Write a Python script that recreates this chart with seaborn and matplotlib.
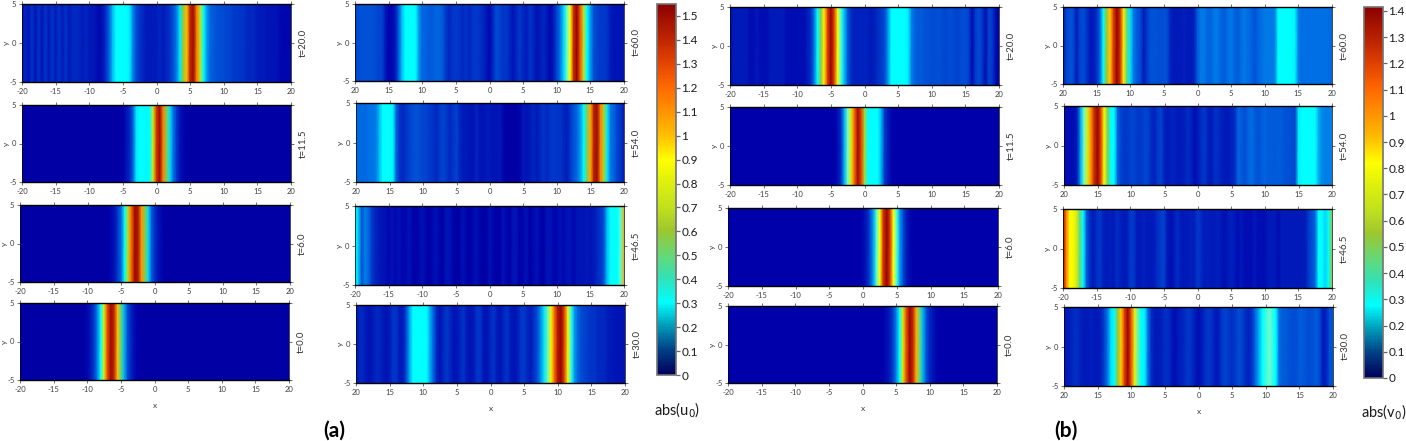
import numpy as np
import matplotlib
matplotlib.use('Agg')
import matplotlib.pyplot as plt
from matplotlib.cm import ScalarMappable
from matplotlib.colors import LinearSegmentedColormap, Normalize
import seaborn as sns

sns.set_style('white')
plt.rcParams['font.family'] = ['Lato', 'DejaVu Sans']

# x runs from -20 to 20 in steps of 0.5, one profile per panel
x_ticks = [-20, -15, -10, -5, 0, 5, 10, 15, 20]
y_ticks = [-5, 0, 5]
x_labels_minus = ['-20', '-15', '-10', '-5', '0', '5', '10', '15', '20']
x_labels_plain = ['20', '15', '10', '5', '0', '5', '10', '15', '20']
bar_a_ticks = [0, 0.1, 0.2, 0.3, 0.4, 0.5, 0.6, 0.7, 0.8, 0.9, 1, 1.1, 1.2, 1.3, 1.4, 1.5]
bar_b_ticks = [0, 0.1, 0.2, 0.3, 0.4, 0.5, 0.6, 0.7, 0.8, 0.9, 1, 1.1, 1.2, 1.3, 1.4]
vmax_a = 1.55
vmax_b = 1.415

u_t0 = [.03, .03, .03, .03, .03, .03, .03, .03, .03, .03, .03, .03, .03, .03, .03, .03, .03, .03, .03, .03,
        .04, .055, .09, .17, .36, .78, 1.28, 1.5, 1.4, 1.0, .5, .23, .11, .07, .045, .035, .03, .03, .03, .03,
        .03, .03, .03, .03, .03, .03, .03, .03, .03, .03, .03, .03, .03, .03, .03, .03, .03, .03, .03, .03,
        .03, .03, .03, .03, .03, .03, .03, .03, .03, .03, .03, .03, .03, .03, .03, .03, .03, .03, .03, .03, .03]
u_t6 = [.03, .03, .03, .03, .03, .03, .03, .03, .03, .03, .03, .03, .03, .03, .03, .03, .03, .03, .03, .03,
        .03, .03, .03, .03, .03, .03, .03, .04, .05, .085, .15, .32, .68, 1.2, 1.5, 1.45, 1.1, .58, .27, .13,
        .075, .05, .04, .03, .03, .03, .03, .03, .03, .03, .03, .03, .03, .03, .03, .03, .03, .03, .03, .03,
        .03, .03, .03, .03, .03, .03, .03, .03, .03, .03, .03, .03, .03, .03, .03, .03, .03, .03, .03, .03, .03]
u_t115 = [.03, .03, .03, .03, .03, .03, .03, .03, .03, .03, .03, .03, .03, .03, .03, .03, .03, .03, .03, .03,
          .03, .03, .03, .03, .03, .03, .03, .03, .03, .03, .03, .05, .07, .13, .28, .31, .31, .3, .32, .75,
          1.35, 1.5, 1.15, .55, .27, .16, .09, .05, .04, .03, .03, .03, .03, .03, .03, .03, .03, .03, .03, .03,
          .03, .03, .03, .03, .03, .03, .03, .03, .03, .03, .03, .03, .03, .03, .03, .03, .03, .03, .03, .03, .03]
u_t20 = [.05, .07, .05, .08, .05, .08, .05, .08, .06, .08, .06, .08, .06, .08, .06, .07, .07, .07, .06, .07,
         .06, .06, .05, .04, .05, .08, .14, .24, .31, .33, .33, .32, .29, .18, .11, .08, .07, .06, .06, .06,
         .06, .07, .06, .07, .08, .12, .17, .28, .6, 1.0, 1.4, 1.5, 1.15, .7, .32, .2, .14, .13, .12, .11,
         .11, .1, .1, .09, .09, .08, .08, .07, .07, .07, .06, .06, .06, .05, .05, .05, .05, .04, .04, .04, .04]
u_t30 = [.05, .07, .07, .06, .05, .06, .07, .07, .06, .05, .06, .08, .08, .06, .06, .12, .22, .31, .33, .34,
         .34, .32, .22, .14, .07, .05, .07, .09, .07, .05, .05, .07, .08, .06, .05, .06, .08, .08, .05, .05,
         .07, .08, .06, .05, .07, .08, .06, .05, .06, .08, .09, .07, .06, .08, .12, .19, .28, .45, .85, 1.2,
         1.45, 1.52, 1.3, .85, .4, .2, .14, .11, .1, .09, .08, .08, .07, .07, .07, .06, .06, .05, .05, .05, .05]
u_t465 = [.32, .25, .12, .17, .15, .09, .07, .06, .05, .05, .04, .05, .04, .05, .04, .04, .05, .04, .03, .04,
          .05, .04, .03, .04, .05, .04, .03, .05, .05, .04, .03, .03, .05, .04, .03, .04, .05, .04, .03, .03,
          .05, .04, .03, .03, .05, .04, .03, .05, .05, .03, .04, .05, .03, .04, .05, .04, .03, .05, .05, .04,
          .04, .05, .04, .05, .05, .04, .05, .05, .05, .06, .05, .06, .07, .08, .12, .24, .32, .31, .33, .42, 1.05]
u_t54 = [.15, .15, .15, .15, .16, .16, .17, .24, .32, .33, .33, .3, .14, .08, .07, .08, .1, .11, .12, .11,
         .1, .1, .09, .08, .07, .09, .1, .09, .07, .08, .1, .07, .06, .06, .05, .05, .07, .05, .05, .06,
         .06, .05, .05, .06, .04, .03, .03, .03, .03, .04, .06, .05, .06, .07, .06, .07, .08, .07, .08, .09,
         .08, .08, .07, .06, .09, .12, .15, .2, .3, .55, 1.05, 1.42, 1.5, 1.15, .65, .28, .16, .14, .1, .08, .06]
u_t60 = [.1, .11, .12, .12, .12, .12, .11, .1, .1, .06, .04, .04, .06, .13, .24, .32, .34, .34, .31, .2,
         .14, .14, .13, .13, .14, .14, .13, .09, .07, .08, .09, .08, .07, .08, .07, .08, .09, .08, .07, .06,
         .04, .07, .11, .1, .08, .09, .07, .05, .07, .09, .07, .06, .08, .07, .05, .06, .07, .06, .04, .06,
         .1, .16, .26, .42, .9, 1.38, 1.52, 1.25, .7, .35, .2, .12, .1, .09, .09, .08, .06, .05, .05, .05, .05]

v_t0 = [.03, .03, .03, .03, .03, .03, .03, .03, .03, .03, .03, .03, .03, .03, .03, .03, .03, .03, .03, .03,
        .03, .03, .03, .03, .03, .03, .03, .03, .03, .03, .03, .03, .03, .03, .03, .03, .03, .03, .03, .03,
        .03, .03, .03, .03, .03, .03, .03, .04, .05, .08, .16, .33, .7, 1.15, 1.38, 1.28, .95, .45, .21, .11,
        .065, .045, .035, .03, .03, .03, .03, .03, .03, .03, .03, .03, .03, .03, .03, .03, .03, .03, .03, .03, .03]
v_t6 = [.03, .03, .03, .03, .03, .03, .03, .03, .03, .03, .03, .03, .03, .03, .03, .03, .03, .03, .03, .03,
        .03, .03, .03, .03, .03, .03, .03, .03, .03, .03, .03, .03, .03, .03, .03, .03, .03, .03, .03, .03,
        .035, .055, .09, .18, .38, .82, 1.23, 1.39, 1.23, .82, .38, .18, .09, .055, .035, .03, .03, .03, .03, .03,
        .03, .03, .03, .03, .03, .03, .03, .03, .03, .03, .03, .03, .03, .03, .03, .03, .03, .03, .03, .03, .03]
v_t115 = [.03, .03, .03, .03, .03, .03, .03, .03, .03, .03, .03, .03, .03, .03, .03, .03, .03, .03, .03, .03,
          .03, .03, .03, .03, .03, .03, .03, .03, .03, .03, .03, .03, .04, .07, .2, .4, .72, 1.1, 1.37, 1.2,
          .6, .3, .3, .3, .28, .2, .08, .05, .035, .03, .03, .03, .03, .03, .03, .03, .03, .03, .03, .03,
          .03, .03, .03, .03, .03, .03, .03, .03, .03, .03, .03, .03, .03, .03, .03, .03, .03, .03, .03, .03, .03]
v_t20 = [.04, .05, .05, .05, .05, .05, .04, .04, .05, .04, .04, .04, .05, .05, .05, .05, .05, .04, .04, .04,
         .04, .04, .04, .05, .07, .14, .28, .5, .85, 1.2, 1.39, 1.2, .8, .38, .22, .12, .07, .06, .06, .06,
         .06, .06, .05, .06, .07, .08, .1, .18, .28, .33, .34, .33, .31, .26, .16, .13, .12, .12, .11, .11,
         .1, .1, .11, .1, .09, .1, .1, .09, .09, .1, .1, .09, .04, .08, .1, .08, .04, .09, .08, .04, .03]
v_t30 = [.05, .05, .06, .07, .07, .06, .05, .05, .06, .05, .05, .06, .09, .15, .25, .3, .55, .9, 1.2, 1.39,
         1.15, .75, .42, .3, .27, .14, .07, .05, .05, .06, .07, .07, .05, .04, .05, .06, .07, .08, .07, .05,
         .04, .05, .07, .08, .07, .05, .05, .08, .09, .08, .07, .08, .1, .09, .07, .06, .08, .14, .2, .3,
         .37, .4, .37, .3, .14, .12, .12, .11, .1, .1, .12, .12, .11, .1, .11, .12, .1, .05, .06, .11, .11]
v_t465 = [1.35, 1.05, .82, .8, .72, .45, .28, .12, .07, .05, .07, .08, .06, .05, .06, .05, .07, .06, .05, .05,
          .08, .08, .05, .05, .06, .05, .05, .05, .07, .08, .09, .05, .04, .05, .07, .05, .05, .05, .06, .05,
          .08, .07, .05, .06, .05, .05, .06, .05, .04, .05, .06, .05, .04, .05, .04, .04, .04, .05, .04, .04,
          .04, .05, .05, .05, .04, .05, .05, .05, .05, .05, .05, .05, .05, .08, .1, .13, .28, .3, .24, .3, .55]
v_t54 = [.04, .04, .04, .04, .06, .2, .4, .72, 1.0, 1.25, 1.39, 1.2, .8, .5, .3, .28, .13, .09, .08, .08,
         .09, .09, .08, .08, .09, .09, .07, .06, .08, .09, .06, .05, .06, .06, .05, .05, .06, .07, .06, .04,
         .05, .07, .08, .06, .05, .07, .07, .06, .05, .05, .06, .07, .13, .12, .1, .13, .14, .12, .11, .12,
         .13, .12, .12, .12, .12, .12, .11, .11, .1, .09, .26, .31, .32, .31, .3, .29, .2, .17, .16, .16, .16]
v_t60 = [.05, .09, .11, .1, .05, .09, .1, .08, .05, .05, .07, .13, .3, .55, .9, 1.2, 1.39, 1.25, .85, .45,
         .25, .15, .12, .1, .05, .08, .11, .11, .11, .1, .11, .1, .06, .05, .05, .05, .06, .05, .05, .06,
         .12, .15, .15, .13, .13, .15, .15, .13, .12, .14, .15, .13, .12, .14, .15, .14, .13, .11, .13, .14,
         .15, .15, .15, .16, .28, .31, .33, .33, .3, .27, .16, .14, .14, .14, .14, .14, .14, .14, .14, .14, .13]

# colour nodes as a fraction of the scale, panels have a brighter blue end than the bar
top_nodes = [(0.32, (0.39, 0.85, 0.47)), (0.39, (0.62, 0.78, 0.18)),
             (0.45, (0.75, 0.88, 0.12)), (0.52, (0.87, 0.94, 0.05)), (0.58, (1, 1, 0)),
             (0.645, (1, 0.75, 0)), (0.71, (1, 0.58, 0)), (0.775, (1, 0.42, 0)),
             (0.84, (0.90, 0.27, 0)), (0.905, (0.75, 0.15, 0)), (1, (0.55, 0, 0))]
bar_cmap = LinearSegmentedColormap.from_list('bar', [(0, (0, 0, 0.35)), (0.065, (0, 0.24, 0.52)),
                                                     (0.13, (0, 0.6, 0.72)), (0.195, (0, 1, 1)),
                                                     (0.26, (0.20, 0.88, 0.72))] + top_nodes)
panel_cmap = LinearSegmentedColormap.from_list('panel', [(0, (0, 0, 0.55)), (0.02, (0, 0, 0.67)),
                                                         (0.05, (0, 0.2, 0.78)), (0.10, (0, 0.44, 0.9)),
                                                         (0.195, (0, 1, 1)), (0.24, (0, 1, 1)),
                                                         (0.28, (0.45, 1, 0.8))] + top_nodes)

W, H = 1406, 441
fig = plt.figure(figsize=(W / 100, H / 100), dpi=100)


def px_axes(left, top, right, bottom):
    return fig.add_axes([left / W, 1 - bottom / H, (right - left) / W, (bottom - top) / H])


def panel(profile, name, vmax, box, labels, xlab=False):
    ax = px_axes(*box)
    grid = np.tile(profile, (2, 1))
    sns.heatmap(grid, ax=ax, cmap=panel_cmap, vmin=0, vmax=vmax, cbar=False,
                xticklabels=False, yticklabels=False, shading='gouraud')
    # gouraud puts the samples on the grid nodes, so the index is (x + 20) * 2
    ax.set_xlim(0, len(profile) - 1)
    ax.set_ylim(0, 1)
    ax.set_xticks([(v + 20) * 2 for v in x_ticks])
    ax.set_xticklabels(labels)
    ax.set_yticks([(v + 5) / 10 for v in y_ticks])
    ax.set_yticklabels(['-5', '0', '5'])
    ax.tick_params(top=True, right=True, bottom=True, left=True, direction='out', length=2.5,
                   width=0.6, color='0.35', labelsize=5.5, labelcolor='0.25', pad=1.5)
    for side, spine in ax.spines.items():
        spine.set_visible(True)
        spine.set_color('black')
        spine.set_linewidth(1.0 if side in ('top', 'bottom') else 0.5)
    ax.set_ylabel('y', fontsize=6, color='0.25', rotation=90)
    ax.yaxis.set_label_coords(-0.045, 0.5)
    if xlab:
        ax.set_xlabel('x', fontsize=6, color='0.25', labelpad=7)
    ax.text(1.045, 0.5, name, transform=ax.transAxes, rotation=90, ha='center', va='center',
            fontsize=7, color='0.2')
    return ax


panel(u_t20, 't=20.0', vmax_a, (22, 4, 291, 82), x_labels_minus)
panel(u_t115, 't=11.5', vmax_a, (22, 105, 291, 182), x_labels_minus)
panel(u_t6, 't=6.0', vmax_a, (20, 205, 290, 282), x_labels_minus)
panel(u_t0, 't=0.0', vmax_a, (20, 303, 289, 380), x_labels_minus, xlab=True)

panel(u_t60, 't=60.0', vmax_a, (355, 4, 624, 81), x_labels_plain)
panel(u_t54, 't=54.0', vmax_a, (356, 103, 624, 182), x_labels_plain)
panel(u_t465, 't=46.5', vmax_a, (355, 206, 624, 285), x_labels_minus)
panel(u_t30, 't=30.0', vmax_a, (356, 305, 625, 383), x_labels_plain, xlab=True)

panel(v_t20, 't=20.0', vmax_b, (730, 7, 999, 85), x_labels_minus)
panel(v_t115, 't=11.5', vmax_b, (730, 107, 999, 185), x_labels_minus)
panel(v_t6, 't=6.0', vmax_b, (728, 208, 998, 286), x_labels_minus)
panel(v_t0, 't=0.0', vmax_b, (728, 306, 997, 383), x_labels_minus, xlab=True)

panel(v_t60, 't=60.0', vmax_b, (1063, 7, 1332, 84), x_labels_plain)
panel(v_t54, 't=54.0', vmax_b, (1064, 106, 1332, 185), x_labels_plain)
panel(v_t465, 't=46.5', vmax_b, (1063, 209, 1332, 288), x_labels_minus)
panel(v_t30, 't=30.0', vmax_b, (1064, 307, 1333, 386), x_labels_plain, xlab=True)


def colorbar(vmax, ticks, box):
    cax = px_axes(*box)
    cb = fig.colorbar(ScalarMappable(Normalize(0, vmax), bar_cmap), cax=cax)
    cb.set_ticks(ticks)
    cb.set_ticklabels([str(t) for t in ticks])
    cb.ax.tick_params(length=3, width=0.9, color='0.4', labelsize=8.5, pad=1, labelcolor='0.1')
    cb.outline.set_edgecolor('0.45')
    cb.outline.set_linewidth(1.2)


colorbar(vmax_a, bar_a_ticks, (657, 4, 676, 375))
colorbar(vmax_b, bar_b_ticks, (1364, 7, 1383, 378))

fig.text(677 / W, 1 - 410 / H, 'abs(u$_0$)', ha='center', va='center', fontsize=10.5, color='0.1')
fig.text(1384 / W, 1 - 412 / H, 'abs(v$_0$)', ha='center', va='center', fontsize=10.5, color='0.1')
fig.text(334 / W, 1 - 431 / H, '(a)', ha='center', va='center', fontsize=15, fontweight='bold', color='black')
fig.text(1066 / W, 1 - 431 / H, '(b)', ha='center', va='center', fontsize=15, fontweight='bold', color='black')

fig.savefig('out.png', dpi=100)
